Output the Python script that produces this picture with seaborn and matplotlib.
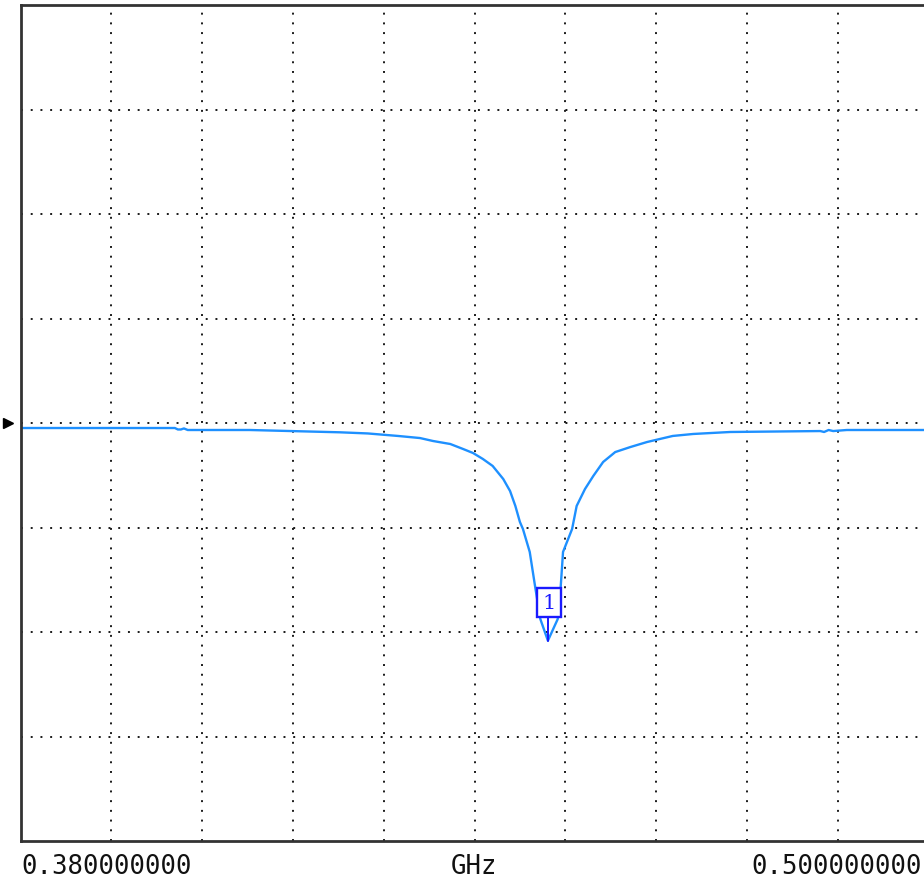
import matplotlib
matplotlib.use("Agg")
import matplotlib.pyplot as plt
import matplotlib.transforms as mtransforms
import seaborn as sns
import pandas as pd

# ---- data ----
freq_ghz = [0.3800, 0.4004, 0.4008, 0.4012, 0.4016, 0.4021, 0.4103, 0.4222,
            0.4259, 0.4299, 0.4328, 0.4345, 0.4368, 0.4385, 0.4398, 0.4411,
            0.4424, 0.4438, 0.4447, 0.4454, 0.4460, 0.4464, 0.4473, 0.4480,
            0.4487, 0.4497, 0.4510, 0.4514, 0.4517, 0.4529, 0.4535, 0.4546,
            0.4557, 0.4570, 0.4586, 0.4606, 0.4628, 0.4645, 0.4662, 0.4689,
            0.4738, 0.4857, 0.4862, 0.4868, 0.4874, 0.4892, 0.5000]
trace_db = [-0.48, -0.48, -0.62, -0.62, -0.52, -0.67, -0.67, -0.89,
            -1.00, -1.24, -1.44, -1.72, -2.01, -2.49, -2.87, -3.44,
            -4.11, -5.36, -6.51, -7.94, -9.47, -10.14, -12.34, -15.60,
            -18.76, -20.83, -18.76, -15.60, -12.34, -10.14, -7.94, -6.32,
            -5.07, -3.73, -2.78, -2.30, -1.82, -1.53, -1.24, -1.05,
            -0.86, -0.77, -0.86, -0.67, -0.77, -0.67, -0.67]

x_start, x_stop = 0.38, 0.50
y_top, y_bottom = 40, -40
x_divs, y_divs = 10, 8
ref_level = 0.0
x_tick_labels = ["0.380000000", "GHz", "0.500000000"]
marker_label = "1"
marker_freq = 0.4497
marker_db = -20.83

df = pd.DataFrame({"freq": freq_ghz, "db": trace_db})

W, H = 924, 887
fig = plt.figure(figsize=(W / 100, H / 100), dpi=100)
sns.set_style("white")
ax = fig.add_axes([20.5 / W, 1 - 842 / H, 908 / W, 836 / H])

sns.lineplot(data=df, x="freq", y="db", ax=ax, color="#1e90ff",
             linewidth=1.7, estimator=None, sort=False)

ax.set_xlim(x_start, x_stop)
ax.set_ylim(y_bottom, y_top)
xs = [x_start + i * (x_stop - x_start) / x_divs for i in range(1, x_divs)]
ys = [y_bottom + i * (y_top - y_bottom) / y_divs for i in range(1, y_divs)]
for xv in xs:
    ax.axvline(xv, color="#1a1a1a", linewidth=1.4, linestyle=(0, (1, 4.0)), zorder=1)
for yv in ys:
    ax.axhline(yv, color="#1a1a1a", linewidth=1.4, linestyle=(0, (1, 4.0)), zorder=1)

ax.set_xticks([])
ax.set_yticks([])
ax.set_xlabel("")
ax.set_ylabel("")
for s in ax.spines.values():
    s.set_color("#333333")
    s.set_linewidth(2.0)
    s.set_visible(True)

# reference level arrow on the left
trans = mtransforms.blended_transform_factory(ax.transAxes, ax.transData)
ax.plot([-12.5 / 908], [ref_level], marker=">", color="black", markersize=7,
        transform=trans, clip_on=False)

# marker 1
ax.plot([marker_freq, marker_freq], [marker_db, -18.6], color="#1a1aff",
        linewidth=1.4, zorder=5)
ax.text(marker_freq + 0.0001, -17.2, marker_label, color="#1a1aff", fontsize=15,
        family="DejaVu Serif", ha="center", va="center", zorder=6,
        bbox=dict(boxstyle="square,pad=0.25", fc="white", ec="#1a1aff", lw=1.7))

# bottom labels
fkw = dict(family="DejaVu Sans Mono", fontsize=18.5, color="#111111", va="center")
fig.text(21 / W, 1 - 867 / H, x_tick_labels[0], ha="left", **fkw)
fig.text(474 / W, 1 - 867 / H, x_tick_labels[1], ha="center", **fkw)
fig.text(922 / W, 1 - 867 / H, x_tick_labels[2], ha="right", **fkw)

fig.savefig("out.png", dpi=100, facecolor="white")
